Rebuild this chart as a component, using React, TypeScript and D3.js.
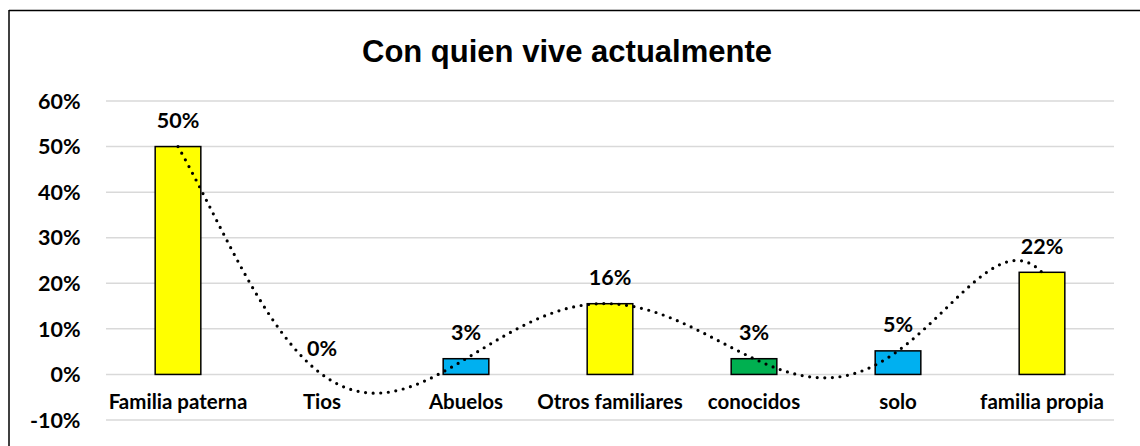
import React from "react";
import * as d3 from "d3";

const title = "Con quien vive actualmente";
const categories = ["Familia paterna", "Tios", "Abuelos", "Otros familiares", "conocidos", "solo", "familia propia"];
const values = [0.5, 0, 0.0345, 0.1552, 0.0345, 0.0517, 0.2241];
const barColors = ["#FFFF00", "#FFFF00", "#00B0F0", "#FFFF00", "#00B050", "#00B0F0", "#FFFF00"];
const yTicks = [-0.1, 0, 0.1, 0.2, 0.3, 0.4, 0.5, 0.6];

const W = 1140;
const H = 446;
const plot = { left: 106, right: 1114, top: 101, bottom: 420 };
const LABEL_FONT = "Lato, 'Open Sans', sans-serif";
const LABEL_SIZE = 20.5;
const NUM_SIZE = 21.5;

export default function App() {
  const x = d3.scaleBand<string>().domain(categories).range([plot.left, plot.right]).padding(0);
  const y = d3.scaleLinear().domain([-0.1, 0.6]).range([plot.bottom, plot.top]);
  const bw = x.bandwidth() * 0.317;
  const fmt = d3.format(".0%");
  const pct = (v: number) => fmt(v).replace("\u2212", "-");
  const cx = (i: number) => (x(categories[i]) as number) + x.bandwidth() / 2;

  // Polynomial (order 6) trendline through the 7 points = Lagrange interpolation
  const n = values.length;
  const poly = (t: number) => {
    let s = 0;
    for (let i = 0; i < n; i++) {
      let p = values[i];
      for (let j = 0; j < n; j++) if (j !== i) p *= (t - j) / (i - j);
      s += p;
    }
    return s;
  };
  const samples = d3.range(0, n - 1 + 1e-9, 0.02);
  const step = x.step();
  const line = d3
    .line<number>()
    .x((t) => cx(0) + t * step)
    .y((t) => y(poly(t)))
    .curve(d3.curveLinear);

  return (
    <svg width={W} height={H} style={{ position: "absolute", left: 0, top: 0, background: "#fff" }}>
      <rect x={0} y={0} width={W} height={H} fill="#fff" />
      {/* chart border */}
      <line x1={9} x2={W} y1={10.5} y2={10.5} stroke="#000" strokeWidth={1.5} />
      <line x1={9} x2={9} y1={10} y2={H} stroke="#000" strokeWidth={1.5} />
      <text
        x={567}
        y={62}
        textAnchor="middle"
        fontFamily="'Liberation Sans', Arial, sans-serif"
        fontWeight="bold"
        fontSize={31}
        fill="#000"
      >
        {title}
      </text>
      {/* gridlines */}
      {yTicks.map((t) => (
        <line key={"g" + t} x1={plot.left} x2={plot.right} y1={y(t)} y2={y(t)} stroke="#D9D9D9" strokeWidth={1.5} />
      ))}
      {/* y tick labels */}
      {yTicks.map((t) => (
        <text
          key={"yt" + t}
          x={80.5}
          y={y(t)}
          dy="0.36em"
          textAnchor="end"
          fontFamily={LABEL_FONT}
          fontWeight="bold"
          fontSize={NUM_SIZE}
          fill="#000"
        >
          {pct(t)}
        </text>
      ))}
      {/* bars */}
      {values.map((v, i) =>
        v > 0 ? (
          <rect
            key={"b" + i}
            x={cx(i) - bw / 2}
            y={y(v)}
            width={bw}
            height={y(0) - y(v)}
            fill={barColors[i]}
            stroke="#000"
            strokeWidth={1.5}
          />
        ) : null
      )}
      {/* trendline */}
      <path
        d={line(samples) || ""}
        fill="none"
        stroke="#000"
        strokeWidth={3.2}
        strokeLinecap="round"
        strokeDasharray="0 7.6"
      />
      {/* data labels */}
      {values.map((v, i) => (
        <text
          key={"dl" + i}
          x={cx(i)}
          y={y(v) - 18.5}
          textAnchor="middle"
          fontFamily={LABEL_FONT}
          fontWeight="bold"
          fontSize={NUM_SIZE}
          fill="#000"
        >
          {pct(v)}
        </text>
      ))}
      {/* x labels */}
      {categories.map((c, i) => (
        <text
          key={"xl" + i}
          x={cx(i)}
          y={408.5}
          textAnchor="middle"
          fontFamily={LABEL_FONT}
          fontWeight="bold"
          fontSize={LABEL_SIZE}
          fill="#000"
        >
          {c}
        </text>
      ))}
    </svg>
  );
}
